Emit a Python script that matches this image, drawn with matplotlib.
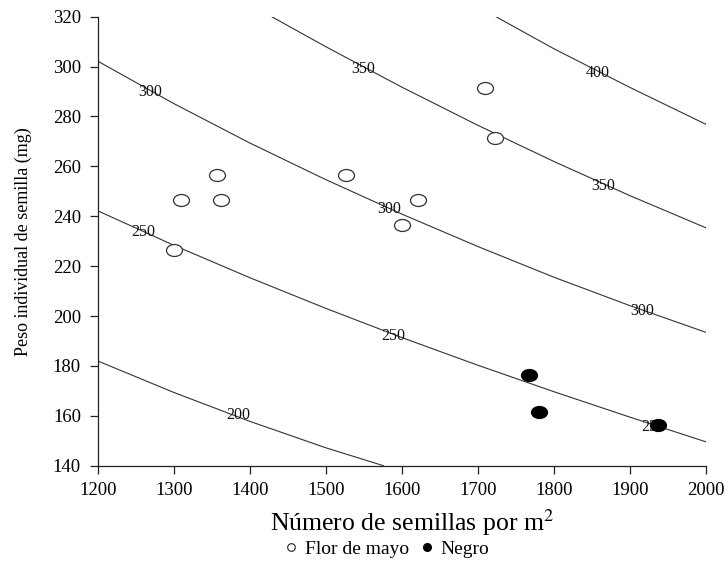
import matplotlib
matplotlib.use("Agg")
import matplotlib.pyplot as plt
from matplotlib.path import Path
from matplotlib.lines import Line2D

plt.rcParams['font.family'] = ['Liberation Serif', 'DejaVu Serif']
plt.rcParams['mathtext.fontset'] = 'stix'

# seed number vs individual seed weight, by variety
flor_x = [1300, 1310, 1357, 1362, 1527, 1600, 1622, 1709, 1723]
flor_y = [226.5, 246.5, 256.5, 246.5, 256.5, 236.5, 246.5, 291.5, 271.5]
negro_x = [1767, 1781, 1937]
negro_y = [176.5, 161.5, 156.5]

# iso-yield lines
iso200_x = [1200, 1300, 1400, 1500, 1576]
iso200_y = [182.0, 169.4, 157.8, 147.2, 140.0]
iso250_x = [1200, 1300, 1400, 1500, 1600, 1700, 1800, 1900, 2000]
iso250_y = [242.2, 228.4, 215.4, 203.1, 191.4, 180.3, 169.7, 159.5, 149.6]
iso300_x = [1200, 1300, 1400, 1500, 1600, 1700, 1800, 1900, 2000]
iso300_y = [302.2, 285.2, 269.4, 254.7, 240.9, 227.9, 215.6, 204.2, 193.5]
iso350_x = [1429, 1500, 1600, 1700, 1800, 1900, 2000]
iso350_y = [320.0, 308.0, 291.8, 276.5, 262.0, 248.3, 235.4]
iso400_x = [1724, 1800, 1900, 2000]
iso400_y = [320.0, 307.2, 291.7, 276.9]

iso_labels = ["300", "250", "200", "350", "300", "250", "400", "350", "300", "250"]
iso_label_x = [1269, 1260, 1385, 1549, 1584, 1589, 1858, 1865, 1917, 1931]
iso_label_y = [290, 233.5, 160.3, 299, 243, 192, 297.5, 252, 202, 155.6]

fig = plt.figure(figsize=(7.28, 5.63), dpi=100)
ax = fig.add_axes([0.1342, 0.1728, 0.8352, 0.7975])

for xs, ys in [(iso200_x, iso200_y), (iso250_x, iso250_y), (iso300_x, iso300_y),
               (iso350_x, iso350_y), (iso400_x, iso400_y)]:
    ax.plot(xs, ys, color='#333333', lw=0.8, zorder=1)

for t, x, y in zip(iso_labels, iso_label_x, iso_label_y):
    ax.text(x, y, t, ha='center', va='center', fontsize=11.5, color='#111111', zorder=2)

# slightly flattened circle
circ = Path.unit_circle()
ellipse = Path(circ.vertices * [1.0, 0.75], circ.codes)

ax.plot(flor_x, flor_y, ls='none', marker=ellipse, markersize=11.5,
        markerfacecolor='white', markeredgecolor='#333333', markeredgewidth=0.9, zorder=3)
ax.plot(negro_x, negro_y, ls='none', marker=ellipse, markersize=11.5,
        markerfacecolor='black', markeredgecolor='black', markeredgewidth=0.9, zorder=3)

ax.set_xlim(1200, 2000)
ax.set_ylim(140, 320)
ax.set_xticks(range(1200, 2001, 100))
ax.set_yticks(range(140, 321, 20))
ax.spines['top'].set_visible(False)
ax.spines['right'].set_visible(False)
for s in ['left', 'bottom']:
    ax.spines[s].set_linewidth(0.9)
    ax.spines[s].set_color('#222222')
ax.tick_params(direction='out', length=6, width=0.9, color='#222222', labelsize=13.5, pad=6)

ax.set_xlabel('Número de semillas por m$^{2}$', fontsize=18.5, labelpad=6)
ax.xaxis.label.set_x(0.517)
ax.set_ylabel('Peso individual de semilla (mg)', fontsize=13, labelpad=15)

handles = [
    Line2D([], [], ls='none', marker='o', markersize=5.5, markerfacecolor='white',
           markeredgecolor='#222222', markeredgewidth=0.8, label='Flor de mayo'),
    Line2D([], [], ls='none', marker='o', markersize=5.5, markerfacecolor='black',
           markeredgecolor='black', label='Negro'),
]
fig.legend(handles=handles, loc='center', bbox_to_anchor=(0.532, 0.024), ncol=2,
           frameon=False, fontsize=14, handlelength=0.6, handletextpad=0.4,
           columnspacing=0.6, borderpad=0)

fig.savefig('out.png', dpi=100)
